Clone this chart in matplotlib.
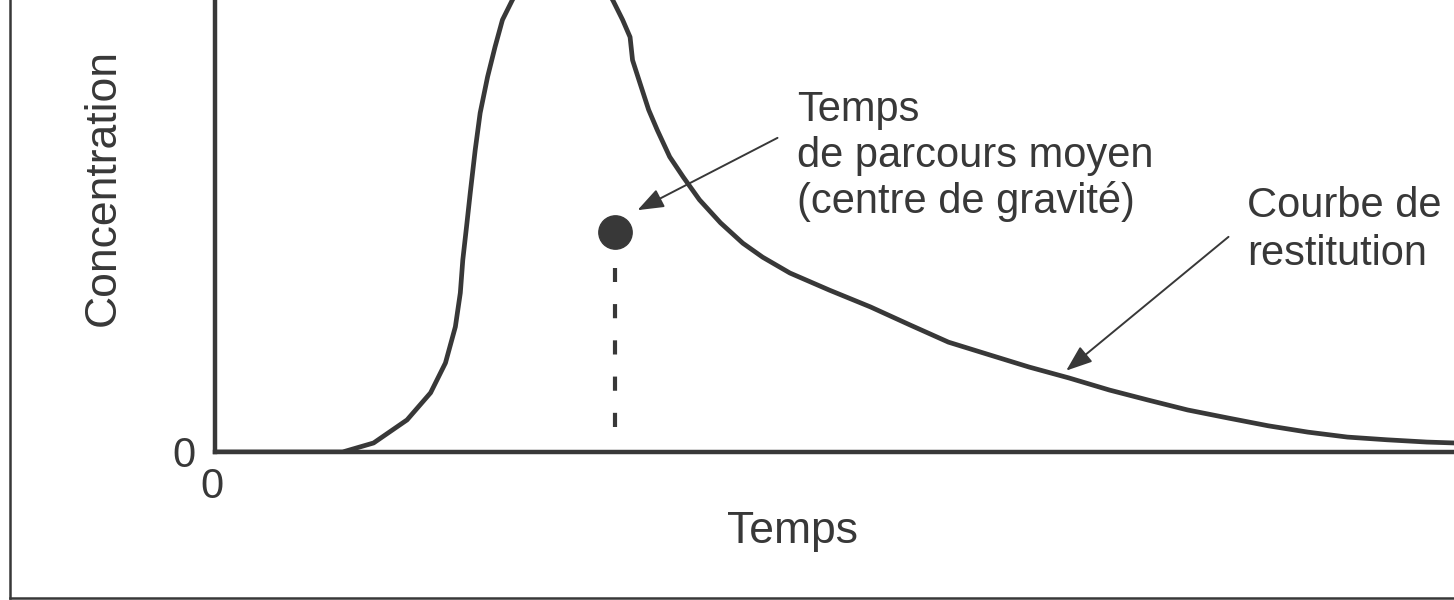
import numpy as np
import matplotlib
matplotlib.use('Agg')
import matplotlib.pyplot as plt
from matplotlib.lines import Line2D

plt.rcParams['font.family'] = ['Liberation Sans', 'DejaVu Sans']

# restitution curve (time, concentration)
# the peak goes above the top of the frame, values there are guesses
temps = [0.0, 1.03, 1.28, 1.55, 1.74, 1.86, 1.94, 1.98, 2.00, 2.03, 2.06,
         2.10, 2.14, 2.20, 2.26, 2.32, 2.40, 2.48, 2.62, 2.80, 2.98, 3.12,
         3.21, 3.29, 3.35, 3.37, 3.43, 3.50, 3.57, 3.67, 3.78, 3.91, 4.08,
         4.26, 4.42, 4.64, 4.96, 5.29, 5.61, 5.92, 6.25, 6.57, 6.89, 7.22,
         7.53, 7.85, 8.18, 8.50, 8.82, 9.14, 9.46, 9.78, 10.0]
conc = [0.0, 0.0, 0.20, 0.71, 1.31, 1.97, 2.77, 3.52, 4.25, 4.98, 5.73,
        6.68, 7.50, 8.30, 8.96, 9.56, 10.0, 10.4, 10.75, 10.85, 10.7, 10.4,
        10.0, 9.56, 9.18, 8.67, 8.16, 7.57, 7.12, 6.53, 6.08, 5.58, 5.07,
        4.62, 4.31, 3.96, 3.58, 3.21, 2.81, 2.43, 2.15, 1.88, 1.64, 1.37,
        1.15, 0.93, 0.75, 0.58, 0.44, 0.33, 0.27, 0.22, 0.20]

# mean travel time (centre of gravity)
t_moyen = 3.23
c_moyen = 4.87

label_x = 'Temps'
label_y = 'Concentration'
note_moyen = 'Temps\nde parcours moyen\n(centre de gravité)'
note_courbe = 'Courbe de\nrestitution'

ink = '#383838'
fs = 30
fs_lab = 32

fig = plt.figure(figsize=(14.54, 6.0), dpi=100)
ax = fig.add_axes([215 / 1454, 148 / 600, 1 - 215 / 1454, 452 / 600])

ax.plot(temps, conc, color=ink, lw=3.4, solid_capstyle='round',
        solid_joinstyle='round')
ax.plot([t_moyen], [c_moyen], 'o', color=ink, ms=24)
ax.vlines(t_moyen, 0.55, 4.07, color=ink, lw=3.0, linestyles=(0, (3.4, 5.3)))

ax.set_xlim(0, 10)
ax.set_ylim(0, 10)
for s in ['top', 'right']:
    ax.spines[s].set_visible(False)
for s in ['left', 'bottom']:
    ax.spines[s].set_linewidth(3.2)
    ax.spines[s].set_color(ink)
ax.set_xticks([])
ax.set_yticks([])

ax.annotate('0', xy=(0, 0), xytext=(-31, -15), textcoords='offset pixels',
            ha='center', va='baseline', fontsize=fs, color=ink)
ax.annotate('0', xy=(0, 0), xytext=(-3, -46), textcoords='offset pixels',
            ha='center', va='baseline', fontsize=fs, color=ink)

arrow = dict(arrowstyle='-|>,head_length=0.8,head_width=0.3', color=ink,
             lw=1.4, mutation_scale=20, shrinkA=0, shrinkB=0)
ax.annotate('', xy=(3.41, 5.35), xytext=(4.54, 6.95), arrowprops=arrow)
ax.annotate('', xy=(6.87, 1.80), xytext=(8.18, 4.76), arrowprops=arrow)

ax.text(4.70, 8.01, note_moyen, ha='left', va='top', fontsize=fs,
        color=ink, linespacing=1.18)
ax.text(8.33, 5.88, note_courbe, ha='left', va='top', fontsize=fs,
        color=ink, linespacing=1.25, clip_on=False)

fig.text(792 / 1454, 1 - 543 / 600, label_x, ha='center', va='baseline',
         fontsize=fs_lab, color=ink)
fig.text(115 / 1454, 1 - 188 / 600, label_y, rotation=90, rotation_mode='anchor',
         ha='center', va='baseline', fontsize=fs_lab, color=ink)

# outer frame of the scanned figure (left and bottom edges only visible)
fig.add_artist(Line2D([10 / 1454, 10 / 1454], [2 / 600, 1.0], color=ink, lw=1.8,
                      transform=fig.transFigure))
fig.add_artist(Line2D([10 / 1454, 1.0], [2 / 600, 2 / 600], color=ink, lw=1.8,
                      transform=fig.transFigure))

fig.savefig('out.png', dpi=100)
